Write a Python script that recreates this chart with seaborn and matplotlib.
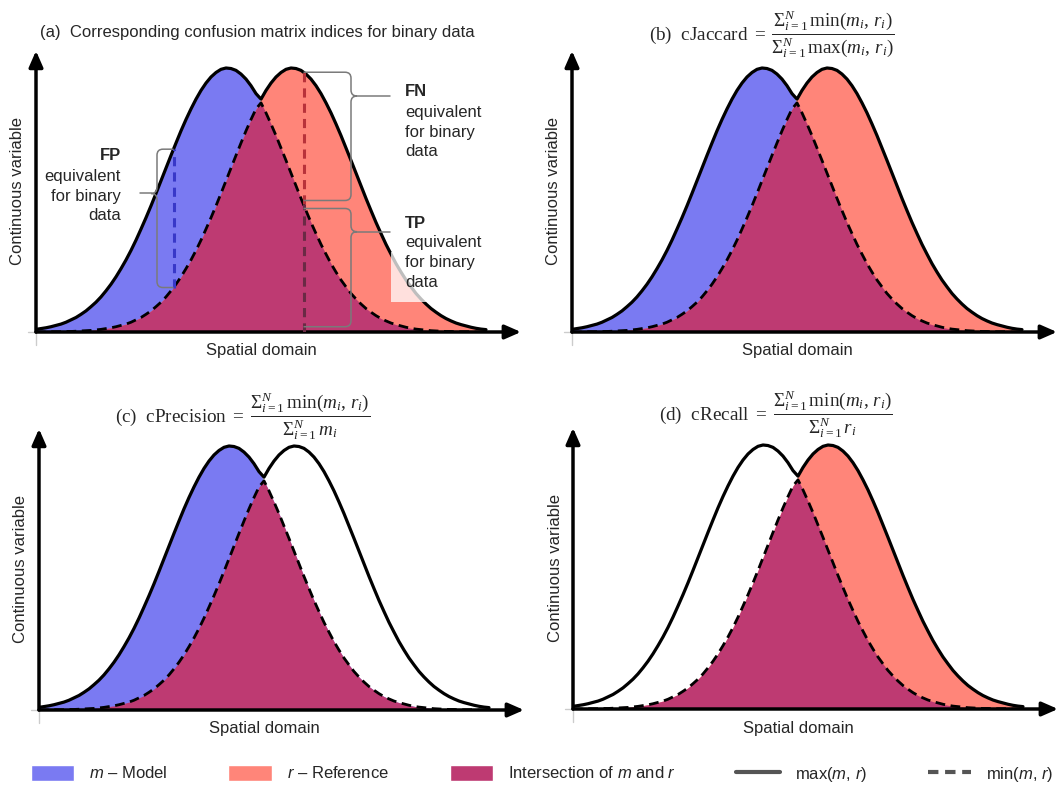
import numpy as np
import pandas as pd
import matplotlib
matplotlib.use('Agg')
import matplotlib.pyplot as plt
import seaborn as sns
from matplotlib.patches import Patch, Rectangle, PathPatch
from matplotlib.lines import Line2D
from matplotlib.path import Path

# Spatial domain positions and curve heights
spatial_x = [0.0, 0.1, 0.2, 0.3, 0.4, 0.5, 0.6, 0.7, 0.8, 0.9,
             1.0, 1.1, 1.2, 1.3, 1.4, 1.5, 1.6, 1.7, 1.8, 1.9,
             2.0, 2.1, 2.2, 2.3, 2.4, 2.5, 2.6, 2.7, 2.8, 2.9,
             3.0, 3.1, 3.2, 3.3, 3.4, 3.5, 3.6, 3.7, 3.8, 3.9,
             4.0, 4.1, 4.2, 4.3, 4.4, 4.5, 4.6, 4.7, 4.8, 4.9,
             5.0, 5.1, 5.2, 5.3, 5.4, 5.5, 5.6, 5.7, 5.8, 5.9,
             6.0, 6.1, 6.2, 6.3, 6.4, 6.5, 6.6, 6.7, 6.8, 6.9,
             7.0, 7.1, 7.2, 7.3, 7.4, 7.5, 7.6, 7.7, 7.8, 7.9,
             8.0, 8.1, 8.2, 8.3, 8.4, 8.5, 8.6, 8.7, 8.8, 8.9, 9.0]
model_values = [0.010, 0.013, 0.016, 0.020, 0.025, 0.030, 0.037,
                0.046, 0.055, 0.067, 0.080, 0.096, 0.113, 0.133, 0.156, 0.181, 0.209,
                0.240, 0.273, 0.309, 0.348, 0.390, 0.433, 0.478, 0.525, 0.573, 0.621,
                0.669, 0.716, 0.762, 0.805, 0.845, 0.882, 0.915, 0.943, 0.966, 0.983,
                0.995, 1.000, 0.998, 0.991, 0.977, 0.958, 0.933, 0.903, 0.868, 0.830,
                0.788, 0.744, 0.697, 0.650, 0.602, 0.554, 0.506, 0.460, 0.415, 0.373,
                0.332, 0.295, 0.259, 0.227, 0.197, 0.171, 0.146, 0.125, 0.106, 0.089,
                0.075, 0.062, 0.051, 0.042, 0.034, 0.028, 0.023, 0.018, 0.014, 0.011, 0.009,
                0.007, 0.005, 0.004, 0.003, 0.002, 0.002, 0.001, 0.001, 0.001, 0.001,
                0.000, 0.000, 0.000]
reference_values = [0.000, 0.000, 0.000, 0.001, 0.001, 0.001, 0.002, 0.002, 0.003, 0.004,
                    0.005, 0.006, 0.008, 0.010, 0.013, 0.016, 0.020, 0.025, 0.030, 0.037,
                    0.046, 0.055, 0.067, 0.080, 0.096, 0.113, 0.133, 0.156, 0.181, 0.209,
                    0.240, 0.273, 0.309, 0.348, 0.390, 0.433, 0.478, 0.525, 0.573, 0.621,
                    0.669, 0.716, 0.762, 0.805, 0.845, 0.882, 0.915, 0.943, 0.966, 0.983,
                    0.995, 1.000, 0.998, 0.991, 0.977, 0.958, 0.933, 0.903, 0.868, 0.830,
                    0.788, 0.744, 0.697, 0.650, 0.602, 0.554, 0.506, 0.460, 0.415, 0.373,
                    0.332, 0.295, 0.259, 0.227, 0.197, 0.171, 0.146, 0.125, 0.106, 0.089,
                    0.075, 0.062, 0.051, 0.042, 0.034, 0.028, 0.023, 0.018, 0.014, 0.011, 0.009]

panel_titles = [
    '(a)  Corresponding confusion matrix indices for binary data',
    r'(b)  cJaccard $=\;\dfrac{\Sigma_{i=1}^{N}\,\min(m_i,\,r_i)}{\Sigma_{i=1}^{N}\,\max(m_i,\,r_i)}$',
    r'(c)  cPrecision $=\;\dfrac{\Sigma_{i=1}^{N}\,\min(m_i,\,r_i)}{\Sigma_{i=1}^{N}\,m_i}$',
    r'(d)  cRecall $=\;\dfrac{\Sigma_{i=1}^{N}\,\min(m_i,\,r_i)}{\Sigma_{i=1}^{N}\,r_i}$',
]
legend_labels = [r'$\mathsf{m}$ – Model', r'$\mathsf{r}$ – Reference',
                 r'Intersection of $\mathsf{m}$ and $\mathsf{r}$',
                 r'max($\mathsf{m}$, $\mathsf{r}$)', r'min($\mathsf{m}$, $\mathsf{r}$)']

BLUE = '#7A7AF2'
RED = '#FF8579'
PURPLE = '#BE3A72'

sns.set_theme(style='white')
plt.rcParams['font.family'] = ['Liberation Sans', 'DejaVu Sans']
plt.rcParams.update({
    'mathtext.fontset': 'custom',
    'mathtext.rm': 'Liberation Serif',
    'mathtext.it': 'Liberation Serif:italic',
    'mathtext.bf': 'Liberation Serif:bold',
    'mathtext.sf': 'Liberation Sans:italic',
})

df = pd.DataFrame({'x': spatial_x, 'model': model_values, 'reference': reference_values})
df['max'] = df[['model', 'reference']].max(axis=1)
df['min'] = df[['model', 'reference']].min(axis=1)

W, H = 1063, 787
XMAX, YMAX = 9.7, 1.065
PX_X, PX_Y = 50, 264
FS = 12

fig = plt.figure(figsize=(W / 100, H / 100), dpi=100)


def draw_panel(ox, oy, fill_model, fill_ref):
    ax = fig.add_axes([ox / W, (H - oy) / H, XMAX * PX_X / W, YMAX * PX_Y / H])
    ax.set_xlim(0, XMAX)
    ax.set_ylim(0, YMAX)
    if fill_model:
        ax.fill_between(df['x'], 0, df['model'], color=BLUE, lw=0, zorder=1)
    if fill_ref:
        ax.fill_between(df['x'], 0, df['reference'], color=RED, lw=0, zorder=1)
    ax.fill_between(df['x'], 0, df['min'], color=PURPLE, lw=0, zorder=1)
    sns.lineplot(data=df, x='x', y='max', ax=ax, color='black', lw=2.3)
    sns.lineplot(data=df, x='x', y='min', ax=ax, color='black', lw=2.0,
                 linestyle=(0, (3.5, 2)))
    ax.axis('off')
    arrow = dict(arrowstyle='-|>,head_length=0.8,head_width=0.35', lw=2.5,
                 color='black', shrinkA=0, shrinkB=0)
    ax.annotate('', xy=(1, 0), xytext=(0, 0), xycoords='axes fraction', arrowprops=arrow)
    ax.annotate('', xy=(0, 1), xytext=(0, 0), xycoords='axes fraction', arrowprops=arrow)
    # faint origin ticks
    ax.plot([0, 0], [0, -13 / PX_Y], color='#cccccc', lw=1, clip_on=False)
    ax.plot([-8 / PX_X, 0], [0, 0], color='#cccccc', lw=1, clip_on=False)
    ax.text(-18 / (XMAX * PX_X), 0.5, 'Continuous variable', rotation=90,
            transform=ax.transAxes, ha='center', va='center', fontsize=FS)
    ax.text(4.5, -19 / PX_Y, 'Spatial domain', ha='center', va='center', fontsize=FS)
    return ax


def brace(ax, x_b, x_open, y_top, y_bot, y_tip, x_tail, side):
    rx, ry = 6 / PX_X, 6 / PX_Y
    verts = [(x_open, y_top), (x_b - side * rx, y_top), (x_b, y_top), (x_b, y_top - ry),
             (x_b, y_tip + ry), (x_b, y_tip), (x_b + side * rx, y_tip),
             (x_b, y_tip), (x_b, y_tip - ry),
             (x_b, y_bot + ry), (x_b, y_bot), (x_b - side * rx, y_bot), (x_open, y_bot)]
    codes = [Path.MOVETO, Path.LINETO, Path.CURVE3, Path.CURVE3, Path.LINETO,
             Path.CURVE3, Path.CURVE3, Path.CURVE3, Path.CURVE3, Path.LINETO,
             Path.CURVE3, Path.CURVE3, Path.LINETO]
    ax.add_patch(PathPatch(Path(verts, codes), fill=False, edgecolor='#7a7a7a',
                           lw=1.1, zorder=3))
    ax.plot([x_b + side * rx, x_tail], [y_tip, y_tip], color='#7a7a7a', lw=1.1, zorder=3)


origins = [(36, 332), (572, 332), (39, 710), (573, 709)]
fills = [(True, True), (True, True), (True, False), (False, True)]
axes = [draw_panel(o[0], o[1], f[0], f[1]) for o, f in zip(origins, fills)]

# ---- panel (a) annotations ----
ax = axes[0]
dx = lambda px: (px - 36) / PX_X
dy = lambda py: (332 - py) / PX_Y
fp_x, fn_x = 2.75, 5.35
fp_top = np.interp(fp_x, df['x'], df['model'])
fp_bot = np.interp(fp_x, df['x'], df['min'])
fn_top = np.interp(fn_x, df['x'], df['reference'])
fn_mid = np.interp(fn_x, df['x'], df['min'])

ax.plot([fp_x, fp_x], [fp_bot, fp_top], color='#3838c8', lw=2.2, ls=(0, (3, 2)), zorder=3)
ax.plot([fn_x, fn_x], [fn_mid, fn_top], color='#b8323a', lw=2.2, ls=(0, (3, 2)), zorder=3)
ax.plot([fn_x, fn_x], [0, fn_mid], color='#6a2a45', lw=2.2, ls=(0, (3, 2)), zorder=3)

gap = 4 / PX_Y
brace(ax, dx(157), fp_x, fp_top, fp_bot, fp_top - 0.32 * (fp_top - fp_bot), dx(140), -1)
brace(ax, dx(351), fn_x, fn_top, fn_mid + gap, fn_top - 0.18 * (fn_top - fn_mid), dx(390), 1)
brace(ax, dx(351), fn_x, fn_mid - gap, 0.02, fn_mid - gap - 0.19 * (fn_mid - 0.02), dx(390), 1)

ax.add_patch(Rectangle((dx(391), dy(302)), (452 - 391) / PX_X, 50 / PX_Y,
                       facecolor='white', alpha=0.75, lw=0, zorder=3))

blocks = [('FP', dx(121), dy(156), 'right'), ('FN', dx(405), dy(92), 'left'),
          ('TP', dx(405), dy(223), 'left')]
for name, tx, ty, ha in blocks:
    ax.text(tx, ty, name, ha=ha, va='center', fontsize=FS, fontweight='bold', zorder=4)
    for k, line in enumerate(['equivalent', 'for binary', 'data']):
        ax.text(tx, ty - (k + 1) * 20 / PX_Y, line, ha=ha, va='center', fontsize=FS, zorder=4)

# ---- titles ----
fig.text(40 / W, 1 - 33 / H, panel_titles[0], fontsize=FS, va='center', ha='left')
title_pos = [(649, 34), (115, 416), (659, 414)]
for t, (tx, ty) in zip(panel_titles[1:], title_pos):
    fig.text(tx / W, 1 - ty / H, t, fontsize=13.8, va='center', ha='left',
             family='Liberation Serif')

# ---- legend ----
handles = [Patch(facecolor=BLUE, label=legend_labels[0]),
           Patch(facecolor=RED, label=legend_labels[1]),
           Patch(facecolor=PURPLE, label=legend_labels[2]),
           Line2D([], [], color='#555555', lw=3, label=legend_labels[3]),
           Line2D([], [], color='#555555', lw=3, ls=(0, (2.5, 1.6)), label=legend_labels[4])]
fig.legend(handles=handles, loc='center', bbox_to_anchor=(0.029, 13 / H, 0.962, 0.0),
           mode='expand', ncol=5, frameon=False, prop=dict(size=12),
           handlelength=2.6, handleheight=1.1, handletextpad=0.9,
           borderaxespad=0, borderpad=0)

fig.savefig('out.png', dpi=100)
